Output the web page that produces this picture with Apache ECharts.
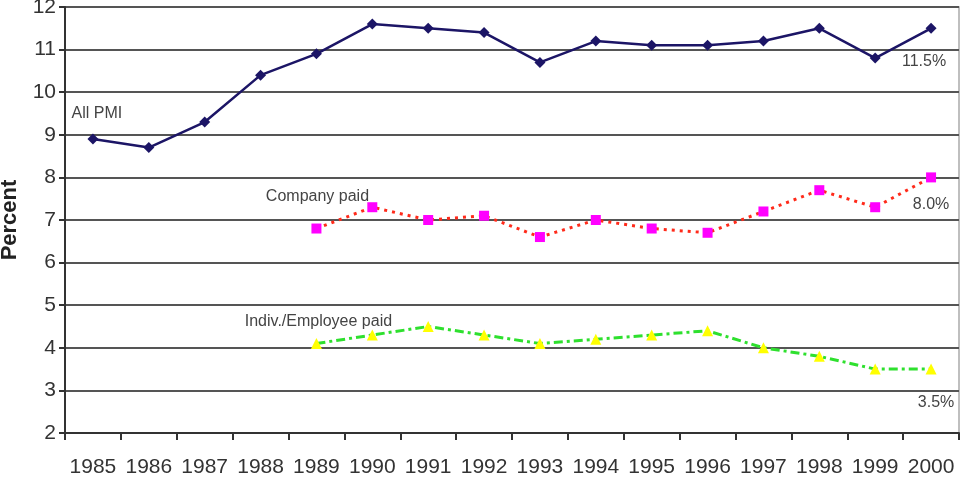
<!DOCTYPE html>
<html>
<head>
<meta charset="utf-8">
<script src="https://cdn.jsdelivr.net/npm/echarts@6/dist/echarts.min.js"></script>
<style>
  html, body { margin: 0; padding: 0; background: #fff; }
  #main { width: 965px; height: 493px; }
</style>
</head>
<body>
<div id="main"></div>
<script>
var years = ['1985','1986','1987','1988','1989','1990','1991','1992','1993','1994','1995','1996','1997','1998','1999','2000'];
var allPmi = [8.9, 8.7, 9.3, 10.4, 10.9, 11.6, 11.5, 11.4, 10.7, 11.2, 11.1, 11.1, 11.2, 11.5, 10.8, 11.5];
var companyPaid = [null, null, null, null, 6.8, 7.3, 7.0, 7.1, 6.6, 7.0, 6.8, 6.7, 7.2, 7.7, 7.3, 8.0];
var indivPaid = [null, null, null, null, 4.1, 4.3, 4.5, 4.3, 4.1, 4.2, 4.3, 4.4, 4.0, 3.8, 3.5, 3.5];
var yTicks = [2, 12, 1]; // min, max, interval

var txt = { color: '#444', fontSize: 16, fontFamily: 'Liberation Sans' };

// put a text label on one data point (name label / end value)
function withLabels(values, marks) {
  return values.map(function (v, i) {
    if (marks[i] == null) return v;
    var m = marks[i];
    return {
      value: v,
      label: Object.assign({ show: true, position: 'inside', formatter: m.text, offset: m.offset }, txt)
    };
  });
}

var chart = echarts.init(document.getElementById('main'));
chart.setOption({
  animation: false,
  grid: {
    left: 65, right: 6, top: 7, bottom: 60,
    outerBoundsMode: 'none',
    containLabel: false,
    show: true, borderColor: '#aaa', borderWidth: 1.5
  },
  xAxis: {
    type: 'category',
    data: years,
    boundaryGap: true,
    axisLine: { lineStyle: { color: '#333', width: 2 } },
    axisTick: { show: true, length: 7, alignWithLabel: false, lineStyle: { color: '#333', width: 2 } },
    axisLabel: { color: '#333', fontSize: 21, fontFamily: 'Liberation Sans', margin: 24, interval: 0 }
  },
  yAxis: {
    type: 'value',
    min: yTicks[0], max: yTicks[1], interval: yTicks[2],
    name: 'Percent',
    nameLocation: 'middle',
    nameGap: 44,
    nameRotate: 90,
    nameTextStyle: { color: '#222', fontSize: 22, fontWeight: 'bold', fontFamily: 'Liberation Sans' },
    axisLine: { show: true, lineStyle: { color: '#333', width: 2 } },
    axisTick: { show: true, length: 6, lineStyle: { color: '#333', width: 2 } },
    axisLabel: { color: '#333', fontSize: 21, fontFamily: 'Liberation Sans', margin: 9 },
    splitLine: { lineStyle: { color: '#555', width: 2 } }
  },
  series: [
    {
      name: 'All PMI',
      type: 'line',
      data: withLabels(allPmi, { 0: { text: 'All PMI', offset: [4, -25] }, 15: { text: '11.5%', offset: [-7, 33] } }),
      symbol: 'diamond',
      symbolSize: 11,
      itemStyle: { color: '#1c1566' },
      lineStyle: { color: '#1c1566', width: 2.5 },
      z: 3
    },
    {
      name: 'Company paid',
      type: 'line',
      data: withLabels(companyPaid, { 4: { text: 'Company paid', offset: [1, -32] }, 15: { text: '8.0%', offset: [0, 27] } }),
      symbol: 'rect',
      symbolSize: 10,
      itemStyle: { color: '#ff00ff' },
      lineStyle: { color: '#ff2a1a', width: 3, type: [3, 5] },
      z: 3
    },
    {
      name: 'Indiv./Employee paid',
      type: 'line',
      data: withLabels(indivPaid, { 4: { text: 'Indiv./Employee paid', offset: [2, -22] }, 15: { text: '3.5%', offset: [5, 33] } }),
      symbol: 'triangle',
      symbolSize: 11,
      itemStyle: { color: '#ffff00' },
      lineStyle: { color: '#2ee02e', width: 3, type: [9, 4, 3, 4] },
      z: 3
    }
  ]
});
</script>
</body>
</html>
